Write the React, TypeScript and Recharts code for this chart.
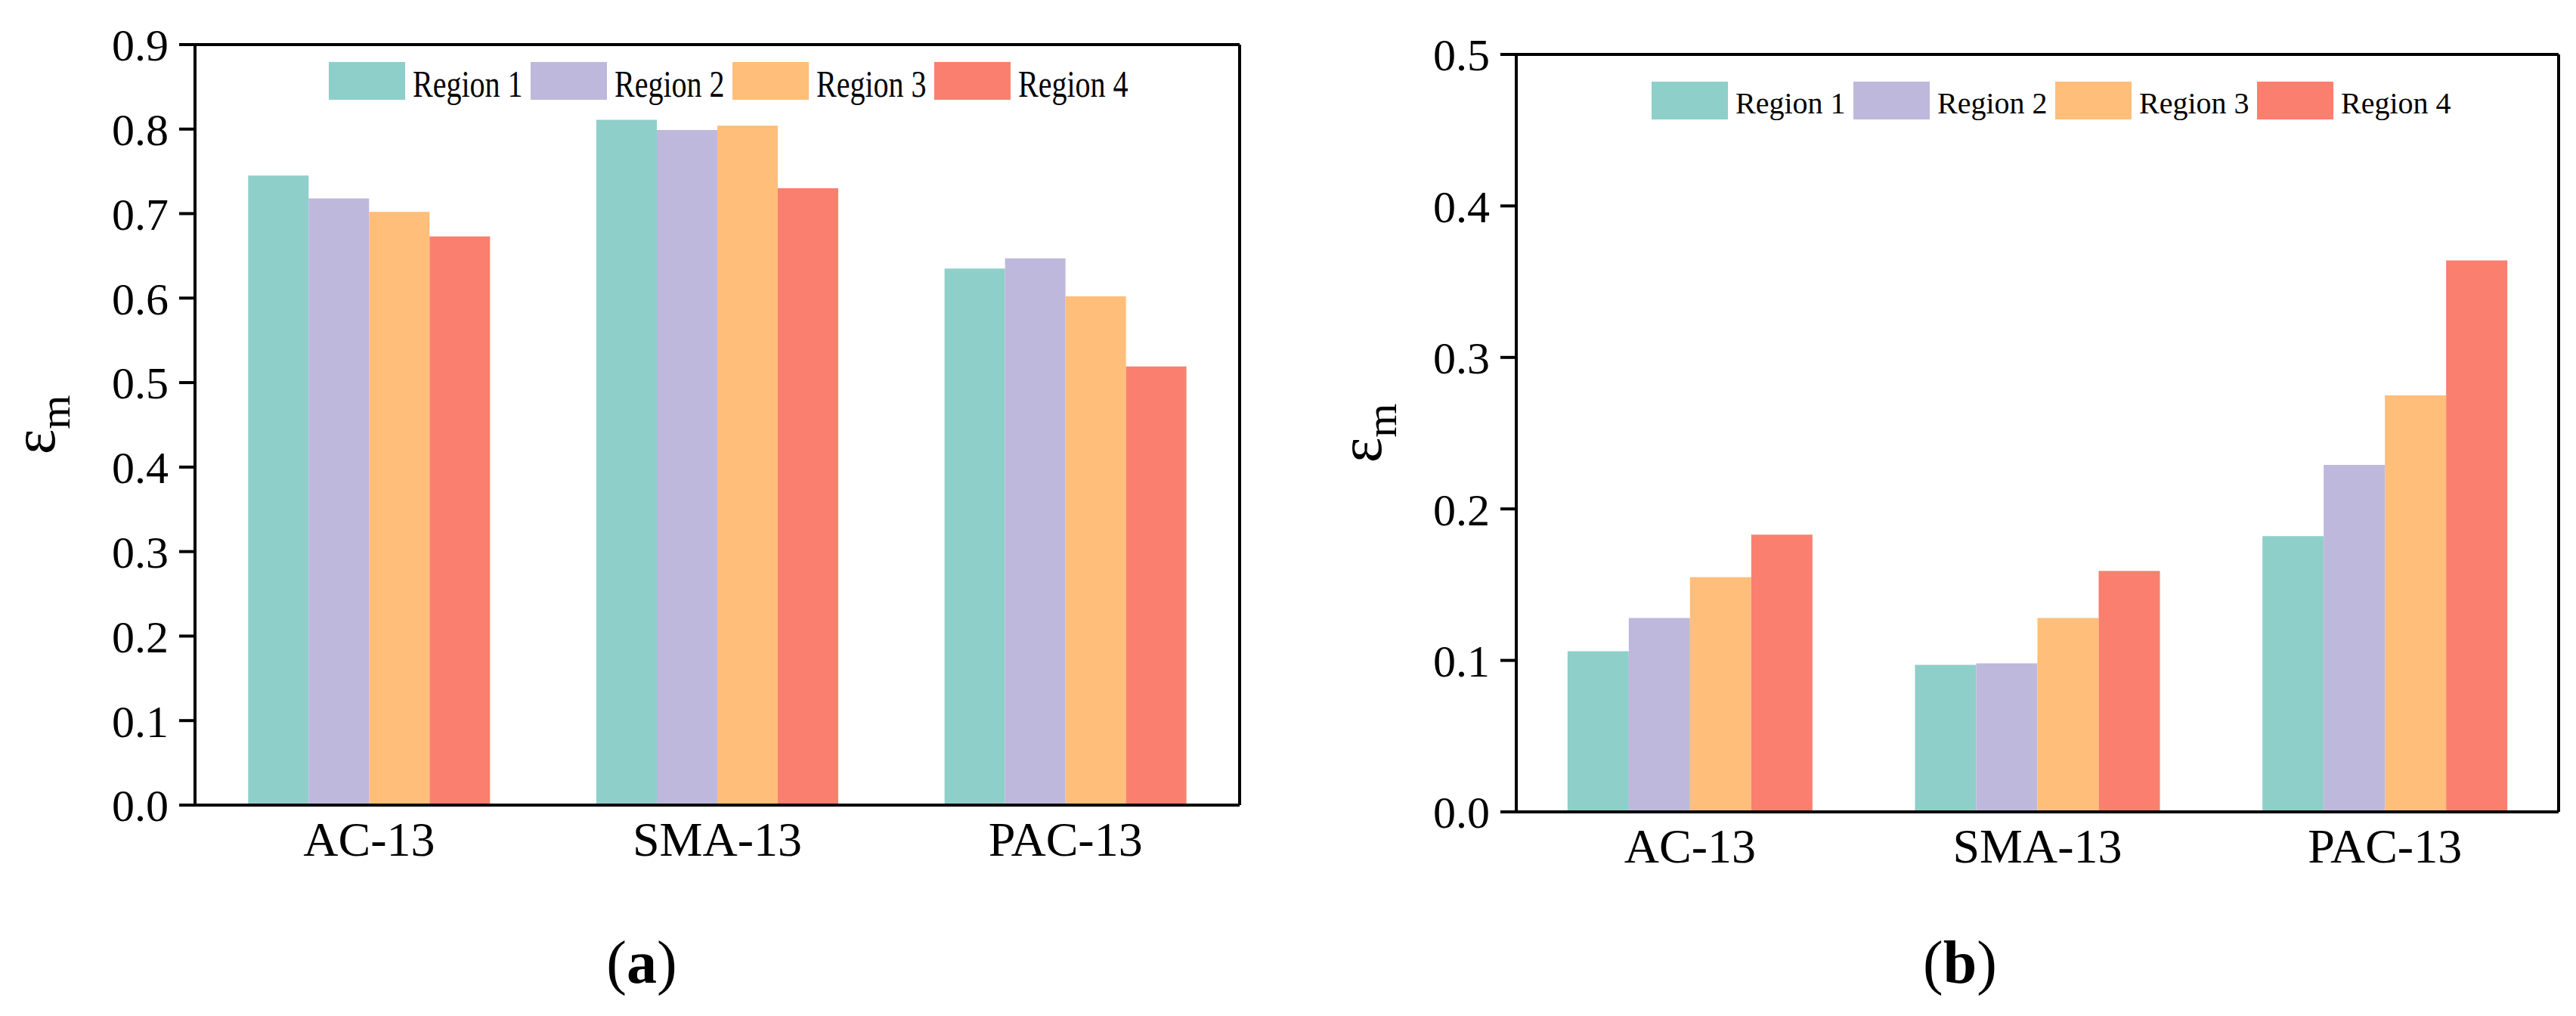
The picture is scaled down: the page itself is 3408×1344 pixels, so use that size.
import React from 'react';
import { BarChart, Bar, XAxis, YAxis, Legend } from 'recharts';

const categories = ['AC-13', 'SMA-13', 'PAC-13'];
const seriesNames = ['Region 1', 'Region 2', 'Region 3', 'Region 4'];
const seriesColors = ['#8ECFC9', '#BEB8DC', '#FFBE7A', '#FA7F6F'];

// panel (a)
const region1A = [0.745, 0.811, 0.635];
const region2A = [0.718, 0.799, 0.647];
const region3A = [0.702, 0.804, 0.602];
const region4A = [0.673, 0.73, 0.519];
const ticksA = [0, 0.1, 0.2, 0.3, 0.4, 0.5, 0.6, 0.7, 0.8, 0.9];

// panel (b)
const region1B = [0.106, 0.097, 0.182];
const region2B = [0.128, 0.098, 0.229];
const region3B = [0.155, 0.128, 0.275];
const region4B = [0.183, 0.159, 0.364];
const ticksB = [0, 0.1, 0.2, 0.3, 0.4, 0.5];

const FONT = '"Liberation Serif", "Times New Roman", serif';

function buildRows(series: number[][]) {
  return categories.map((name, i) => {
    const row: Record<string, string | number> = { name };
    series.forEach((s, j) => {
      row[`r${j + 1}`] = s[i];
    });
    return row;
  });
}

const rowsA = buildRows([region1A, region2A, region3A, region4A]);
const rowsB = buildRows([region1B, region2B, region3B, region4B]);

function EpsLabel(props: any) {
  const { viewBox, shift } = props;
  const cx = viewBox.x + shift;
  const cy = viewBox.y + viewBox.height / 2;
  return (
    <text
      transform={`translate(${cx}, ${cy}) rotate(-90)`}
      textAnchor="middle"
      fontFamily={FONT}
      fill="#000"
    >
      <tspan fontSize={80}>ε</tspan>
      <tspan fontSize={58} dy={20}>m</tspan>
    </text>
  );
}

function makeLegend(fontSize: number, squeeze: number) {
  return (props: any) => (
    <div style={{ display: 'flex', fontFamily: FONT }}>
      {(props.payload || []).map((p: any) => (
        <div key={p.value} style={{ width: 267, height: 50, display: 'flex', alignItems: 'center' }}>
          <div style={{ width: 101, height: 50, background: p.color, flex: 'none' }} />
          <span
            style={{
              marginLeft: 10,
              fontSize,
              lineHeight: '50px',
              position: 'relative',
              top: 4,
              color: '#000',
              whiteSpace: 'nowrap',
              display: 'inline-block',
              transform: `scaleX(${squeeze})`,
              transformOrigin: 'left center',
            }}
          >
            {p.value}
          </span>
        </div>
      ))}
    </div>
  );
}

type PanelProps = {
  rows: Record<string, string | number>[];
  ticks: number[];
  width: number;
  margin: { top: number; right: number; bottom: number; left: number };
  gap: string;
  legendPos: { left: number; top: number };
  legendFont: number;
  legendSqueeze: number;
  labelShift: number;
};

function Panel({ rows, ticks, width, margin, gap, legendPos, legendFont, legendSqueeze, labelShift }: PanelProps) {
  const line = { stroke: '#000', strokeWidth: 4 };
  return (
    <BarChart
      width={width}
      height={1200}
      data={rows}
      margin={margin}
      barCategoryGap={gap}
      barGap={0}
      style={{ fontFamily: FONT }}
    >
      <XAxis
        dataKey="name"
        axisLine={line}
        tickLine={false}
        tickSize={0}
        tickMargin={22}
        height={100}
        tick={{ fontSize: 64, fill: '#000', fontFamily: FONT }}
      />
      {/* top and right axes just draw the closed frame */}
      <XAxis xAxisId="top" dataKey="name" orientation="top" height={1} tick={false} tickLine={false} axisLine={line} />
      <YAxis
        domain={[0, ticks[ticks.length - 1]]}
        ticks={ticks}
        interval={0}
        tickFormatter={(v: number) => v.toFixed(1)}
        axisLine={line}
        tickLine={line}
        tickSize={21}
        tickMargin={14}
        width={150}
        tick={{ fontSize: 60, fill: '#000', fontFamily: FONT }}
        label={<EpsLabel shift={labelShift} />}
      />
      <YAxis yAxisId="right" orientation="right" width={1} tick={false} tickLine={false} axisLine={line} />
      <Legend
        layout="horizontal"
        verticalAlign="middle"
        content={makeLegend(legendFont, legendSqueeze)}
        wrapperStyle={{ left: legendPos.left, top: legendPos.top, width: 1120, height: 50 }}
      />
      {seriesNames.map((n, i) => (
        <Bar key={n} dataKey={`r${i + 1}`} name={n} fill={seriesColors[i]} isAnimationActive={false} />
      ))}
    </BarChart>
  );
}

const captionStyle: React.CSSProperties = {
  position: 'absolute',
  top: 1233,
  fontFamily: FONT,
  fontSize: 80,
  lineHeight: '80px',
  transform: 'translateX(-50%)',
  color: '#000',
  whiteSpace: 'nowrap',
};

export default function App() {
  return (
    <div style={{ position: 'relative', width: 3408, height: 1344, background: '#fff', overflow: 'hidden' }}>
      <style>{'body{margin:0;background:#fff}'}</style>
      <div style={{ position: 'absolute', left: 0, top: 0 }}>
        <Panel
          rows={rowsA}
          ticks={ticksA}
          width={1700}
          margin={{ top: 58, right: 59, bottom: 35, left: 108 }}
          gap="15.26%"
          legendPos={{ left: 435, top: 82 }}
          legendFont={50}
          legendSqueeze={0.8}
          labelShift={-36}
        />
      </div>
      <div style={{ position: 'absolute', left: 1704, top: 0 }}>
        <Panel
          rows={rowsB}
          ticks={ticksB}
          width={1704}
          margin={{ top: 71, right: 22, bottom: 26, left: 152 }}
          gap="14.76%"
          legendPos={{ left: 481, top: 108 }}
          legendFont={40}
          legendSqueeze={1}
          labelShift={-29}
        />
      </div>
      <div style={{ ...captionStyle, left: 849 }}>
        (<b>a</b>)
      </div>
      <div style={{ ...captionStyle, left: 2593 }}>
        (<b>b</b>)
      </div>
    </div>
  );
}
